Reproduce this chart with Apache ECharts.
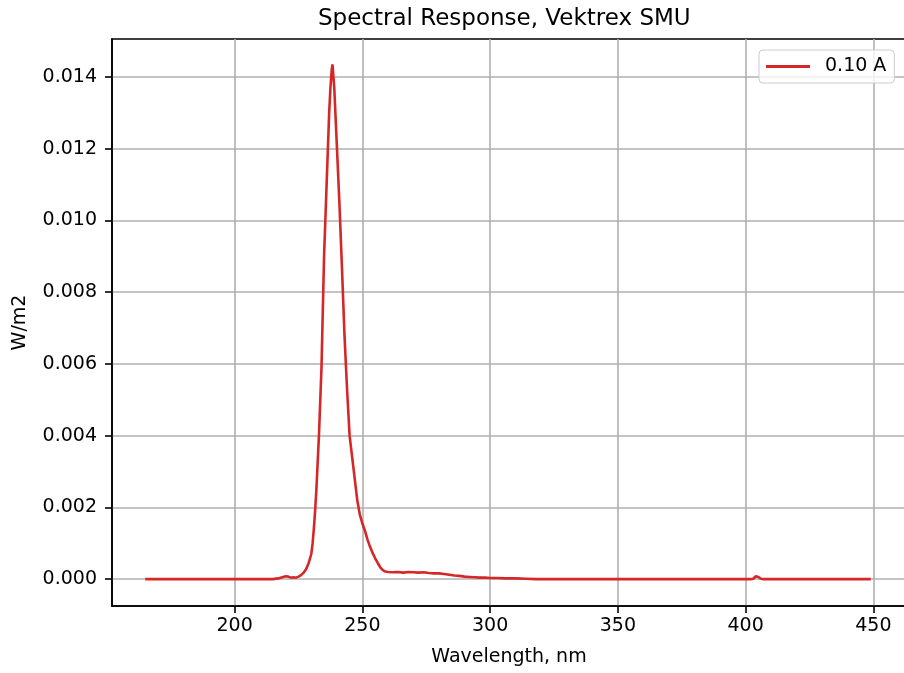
<!DOCTYPE html>
<html>
<head>
<meta charset="UTF-8">
<title>Spectral Response, Vektrex SMU</title>
<script type="text/javascript" src="https://cdn.jsdelivr.net/npm/echarts@6/dist/echarts.min.js"></script>
<style>
  html, body { margin: 0; padding: 0; background: #fff; }
</style>
</head>
<body>
<div id="main" style="width: 904px; height: 673px"></div>
<script type="text/javascript">
// wavelength, nm
var wavelength = [165, 180, 200, 215, 217, 218, 219, 220, 221, 222, 223, 224, 225, 226, 227, 228, 229,
  230, 230.5, 231, 231.5, 232, 233, 234, 235, 236, 237, 237.5, 238, 238.3, 239, 239.5, 240, 241, 242,
  243, 244, 245, 246, 247, 248, 249, 250, 251, 252, 253, 254, 255, 256, 257, 258, 259, 260, 262, 264,
  266, 268, 270, 272, 274, 276, 278, 280, 282, 284, 286, 288, 290, 292, 294, 296, 298, 300, 303, 306,
  310, 314, 318, 330, 360, 390, 402, 403, 404, 404.5, 405, 406, 407, 420, 440, 449];
// irradiance, W/m2 (0.10 A)
var irradiance = [0, 0, 0, 0, 0.00002, 0.00004, 0.00006, 0.00008, 0.00007, 0.00004, 0.00005, 0.00004,
  0.00007, 0.00011, 0.00018, 0.00028, 0.00045, 0.0007, 0.00098, 0.0014, 0.0019, 0.0025, 0.0040, 0.0059,
  0.0090, 0.0110, 0.0130, 0.0137, 0.0142, 0.01435, 0.0137, 0.0129, 0.0121, 0.0105, 0.0087, 0.0068,
  0.0053, 0.0040, 0.0034, 0.0028, 0.0022, 0.0018, 0.00155, 0.00135, 0.0011, 0.0009, 0.00073, 0.00058,
  0.00045, 0.00033, 0.00025, 0.00021, 0.0002, 0.00019, 0.0002, 0.00018, 0.0002, 0.00019, 0.00018,
  0.00019, 0.00017, 0.00016, 0.00016, 0.00014, 0.00012, 0.0001, 0.00009, 0.00007, 0.00006, 0.00005,
  0.00004, 0.00004, 0.00003, 0.00003, 0.00002, 0.00002, 0.00001, 0, 0, 0, 0, 0, 0.00001, 0.00008,
  0.00011, 0.00006, 0.00001, 0, 0, 0, 0];
var xTicks = [200, 250, 300, 350, 400, 450];
var yTicks = [0, 0.002, 0.004, 0.006, 0.008, 0.010, 0.012, 0.014];

var points = [];
for (var i = 0; i < wavelength.length; i++) {
  points.push([wavelength[i], irradiance[i]]);
}

var myChart = echarts.init(document.getElementById('main'), null, {renderer: 'canvas'});
var font = 'DejaVu Sans';

var option = {
  animation: false,
  backgroundColor: '#fff',
  title: {
    text: 'Spectral Response, Vektrex SMU',
    left: 313,
    top: 3,
    textStyle: { fontFamily: font, fontSize: 23, fontWeight: 'normal', color: '#000' }
  },
  legend: {
    data: ['0.10 A'],
    left: 759,
    top: 50,
    icon: 'rect',
    itemWidth: 44,
    itemHeight: 3,
    padding: [7, 8, 7, 7],
    borderColor: '#cccccc',
    borderWidth: 1,
    borderRadius: 4,
    backgroundColor: 'rgba(255,255,255,0.8)',
    textStyle: { fontFamily: font, fontSize: 19, color: '#000', padding: [0, 0, 0, 10] }
  },
  grid: {
    left: 112,
    top: 39,
    width: 794,
    height: 567,
    outerBoundsMode: 'none',
    show: true,
    borderColor: '#000',
    borderWidth: 1.6
  },
  xAxis: {
    type: 'value',
    min: 152,
    max: 462.78,
    name: 'Wavelength, nm',
    nameLocation: 'middle',
    nameGap: 42,
    nameTextStyle: { fontFamily: font, fontSize: 19, color: '#000' },
    axisLine: { onZero: false, lineStyle: { color: '#000', width: 1.6 } },
    axisTick: { length: 7, lineStyle: { color: '#000', width: 1.6 }, customValues: xTicks },
    axisLabel: { customValues: xTicks, margin: 11, fontFamily: font, fontSize: 19, color: '#000' },
    splitLine: { show: true, lineStyle: { color: '#b0b0b0', width: 1.6 } }
  },
  yAxis: {
    type: 'value',
    min: -0.00075,
    max: 0.01506,
    name: 'W/m2',
    nameLocation: 'middle',
    nameGap: 82,
    nameTextStyle: { fontFamily: font, fontSize: 19, color: '#000' },
    axisLine: { show: true, onZero: false, lineStyle: { color: '#000', width: 1.6 } },
    axisTick: { show: true, length: 7, lineStyle: { color: '#000', width: 1.6 }, customValues: yTicks },
    axisLabel: {
      customValues: yTicks, margin: 15, fontFamily: font, fontSize: 19, color: '#000',
      formatter: function (v) { return v.toFixed(3); }
    },
    splitLine: { show: true, lineStyle: { color: '#b0b0b0', width: 1.6 } }
  },
  series: [{
    name: '0.10 A',
    type: 'line',
    data: points,
    showSymbol: false,
    symbol: 'none',
    color: '#d62728',
    lineStyle: { color: '#d62728', width: 2.6 },
    z: 3
  }]
};
myChart.setOption(option);
</script>
</body>
</html>
